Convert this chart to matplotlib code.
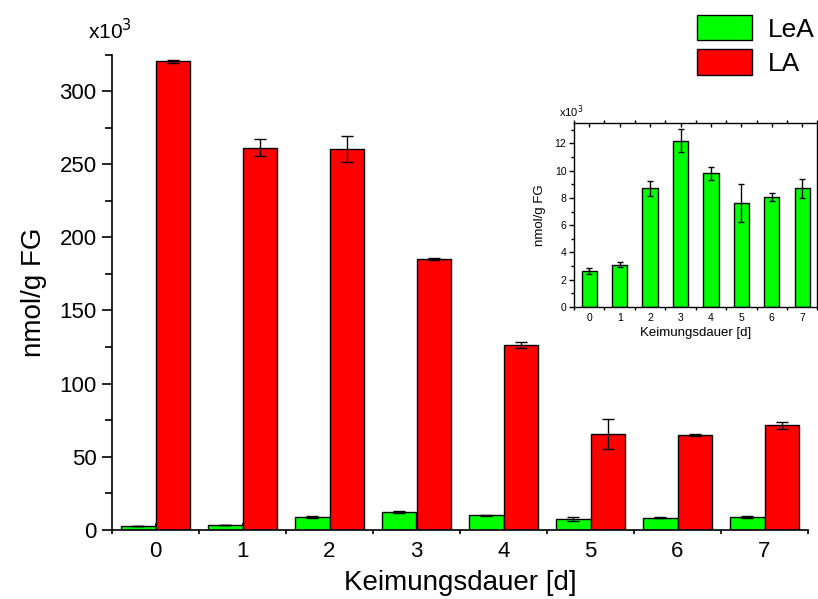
import matplotlib
matplotlib.use("Agg")
import matplotlib.pyplot as plt
import numpy as np
from matplotlib.ticker import MultipleLocator

plt.rcParams['font.family'] = ['Liberation Sans', 'DejaVu Sans']

days = [0, 1, 2, 3, 4, 5, 6, 7]
lea = [2.65, 3.1, 8.7, 12.2, 9.8, 7.6, 8.1, 8.7]
lea_err = [0.2, 0.2, 0.55, 0.85, 0.5, 1.4, 0.3, 0.7]
la = [320.5, 261.5, 260.5, 185.3, 126.5, 65.5, 65.0, 71.3]
la_err = [1.2, 5.5, 9.0, 0.8, 2.0, 10.0, 0.8, 2.3]

green = '#00ff00'
red = '#ff0000'

fig = plt.figure(figsize=(8.18, 5.99), dpi=100)
ax = fig.add_axes([112/818, 1-529.7/599, (808-112)/818, (529.7-54.7)/599])

x = np.array(days, dtype=float)
w = 0.4
ax.bar(x - w/2, lea, width=w, color=green, edgecolor='black', linewidth=1.0,
       yerr=lea_err, capsize=4, error_kw=dict(elinewidth=1, capthick=1, ecolor='black'),
       label='LeA', zorder=2)
ax.bar(x + w/2, la, width=w, color=red, edgecolor='black', linewidth=1.0,
       yerr=la_err, capsize=4, error_kw=dict(elinewidth=1, capthick=1, ecolor='black'),
       label='LA', zorder=2)

ax.set_xlim(-0.5, 7.5)
ax.set_ylim(0, 325)
ax.set_xticks(days)
ax.set_xticklabels([str(d) for d in days])
ax.xaxis.set_minor_locator(MultipleLocator(0.5))
ax.yaxis.set_major_locator(MultipleLocator(50))
ax.yaxis.set_minor_locator(MultipleLocator(25))
for s in ['top', 'right']:
    ax.spines[s].set_visible(False)
for s in ['left', 'bottom']:
    ax.spines[s].set_linewidth(1.2)
ax.tick_params(axis='y', which='major', direction='out', length=7, width=1.2, labelsize=16, pad=4)
ax.tick_params(axis='y', which='minor', direction='out', length=5, width=1.2)
ax.tick_params(axis='x', which='major', direction='in', length=5, width=1.2, labelsize=16, pad=8)
ax.tick_params(axis='x', which='minor', direction='out', length=3, width=1.2)
ax.set_xlabel('Keimungsdauer [d]', fontsize=20, labelpad=6)
ax.set_ylabel('nmol/g FG', fontsize=20, labelpad=9)
fig.text(88/818, 1-39/599, r'x10$^{3}$', fontsize=15, ha='left', va='baseline')

leg = ax.legend(loc='upper right', bbox_to_anchor=(1.025, 1.106), frameon=False, fontsize=19,
                handlelength=2.1, handleheight=1.1, handletextpad=0.6, labelspacing=0.3,
                borderaxespad=0.0)

# inset
ins = fig.add_axes([574/818, 1-307/599, (817.5-574)/818, (307-123)/599])
ins.bar(x, lea, width=0.5, color=green, edgecolor='black', linewidth=1.0,
        yerr=lea_err, capsize=2, error_kw=dict(elinewidth=1, capthick=1, ecolor='black'), zorder=2)
ins.set_xlim(-0.5, 7.5)
ins.set_ylim(0, 13.5)
ins.set_xticks(days)
ins.set_xticklabels([str(d) for d in days])
ins.xaxis.set_minor_locator(MultipleLocator(0.5))
ins.yaxis.set_major_locator(MultipleLocator(2))
ins.yaxis.set_minor_locator(MultipleLocator(1))
for s in ins.spines.values():
    s.set_linewidth(1.0)
ins.tick_params(axis='y', which='major', direction='out', length=3.5, width=1, labelsize=7.5, pad=2)
ins.tick_params(axis='y', which='minor', direction='out', length=2, width=1)
ins.tick_params(axis='x', which='major', direction='in', length=3, width=1, labelsize=7.5, pad=4)
ins.tick_params(axis='x', which='minor', direction='out', length=2, width=1)
ins.tick_params(which='both', top=True, right=True)
ins.set_xlabel('Keimungsdauer [d]', fontsize=9.5, labelpad=3)
ins.set_ylabel('nmol/g FG', fontsize=9.5, labelpad=6)
fig.text(559/818, 1-117/599, r'x10$^{3}$', fontsize=8, ha='left', va='baseline')

fig.savefig('out.png', dpi=100)
